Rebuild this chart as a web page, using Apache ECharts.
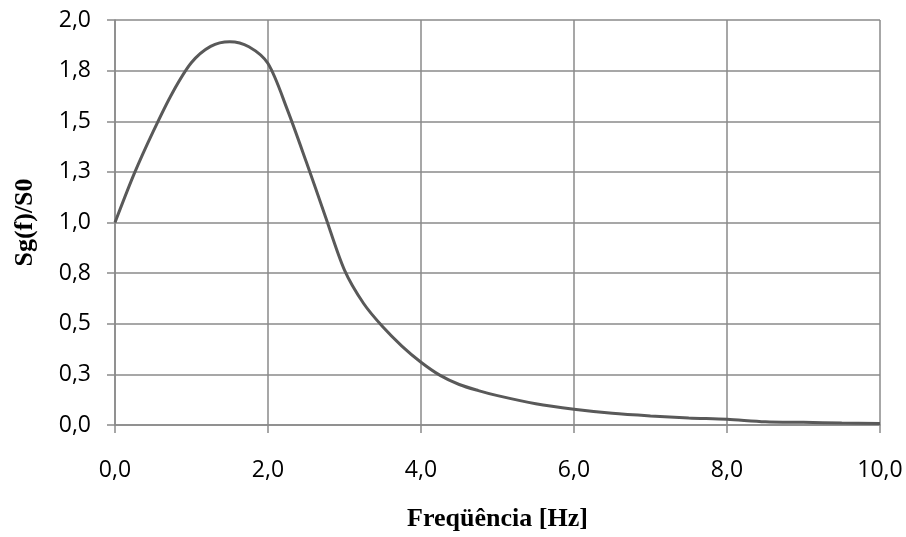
<!DOCTYPE html>
<html>
<head>
<meta charset="utf-8">
<script src="https://cdn.jsdelivr.net/npm/echarts@6/dist/echarts.min.js"></script>
<style>
html,body{margin:0;padding:0;background:#fff;}
#chart{width:906px;height:537px;}
</style>
</head>
<body>
<div id="chart"></div>
<script>
// Frequency [Hz]
var freq = [0, 0.25, 0.5, 0.75, 1.0, 1.25, 1.5, 1.75, 2.0, 2.25, 2.5, 2.75, 3.0, 3.25, 3.5, 3.75, 4.0, 4.25, 4.5, 4.75, 5.0, 5.5, 6.0, 6.5, 7.0, 7.5, 8.0, 8.5, 9.0, 9.5, 10.0];
// Sg(f)/S0
var ratio = [1.0, 1.24, 1.45, 1.64, 1.79, 1.87, 1.893, 1.868, 1.785, 1.56, 1.30, 1.03, 0.765, 0.60, 0.485, 0.39, 0.31, 0.245, 0.20, 0.17, 0.145, 0.105, 0.078, 0.058, 0.045, 0.035, 0.028, 0.016, 0.013, 0.010, 0.008];

var xTicks = {min: 0, max: 10, interval: 2};
var yTicks = {min: 0, max: 2, interval: 0.25};

var data = freq.map(function (f, i) { return [f, ratio[i]]; });
function fmt(v) { return v.toFixed(1).replace('.', ','); }

var gridColor = '#8a8a8a';
var chart = echarts.init(document.getElementById('chart'), null, {renderer: 'canvas'});
chart.setOption({
  animation: false,
  backgroundColor: '#ffffff',
  grid: {left: 115, right: 26, top: 20, bottom: 112, containLabel: false},
  xAxis: {
    type: 'value',
    min: xTicks.min, max: xTicks.max, interval: xTicks.interval,
    name: 'Freqüência [Hz]',
    nameLocation: 'middle',
    nameGap: 81,
    nameTextStyle: {fontFamily: 'Liberation Serif', fontWeight: 'bold', fontSize: 26, color: '#000'},
    axisLine: {show: true, lineStyle: {color: gridColor, width: 1.5}},
    axisTick: {show: true, length: 8, lineStyle: {color: gridColor, width: 1.5}},
    splitLine: {show: true, lineStyle: {color: gridColor, width: 1.5}},
    axisLabel: {formatter: fmt, fontFamily: 'Open Sans', fontSize: 23, color: '#000', margin: 34}
  },
  yAxis: {
    type: 'value',
    min: yTicks.min, max: yTicks.max, interval: yTicks.interval,
    name: 'Sg(f)/S0',
    nameLocation: 'middle',
    nameGap: 77,
    nameTextStyle: {fontFamily: 'Liberation Serif', fontWeight: 'bold', fontSize: 26, color: '#000'},
    axisLine: {show: true, lineStyle: {color: gridColor, width: 1.5}},
    axisTick: {show: true, length: 8, lineStyle: {color: gridColor, width: 1.5}},
    splitLine: {show: true, lineStyle: {color: gridColor, width: 1.5}},
    axisLabel: {formatter: fmt, fontFamily: 'Open Sans', fontSize: 23, color: '#000', margin: 24}
  },
  series: [{
    type: 'line',
    data: data,
    smooth: 0.3,
    showSymbol: false,
    symbol: 'none',
    lineStyle: {color: '#595959', width: 3},
    z: 5
  }]
});
</script>
</body>
</html>
